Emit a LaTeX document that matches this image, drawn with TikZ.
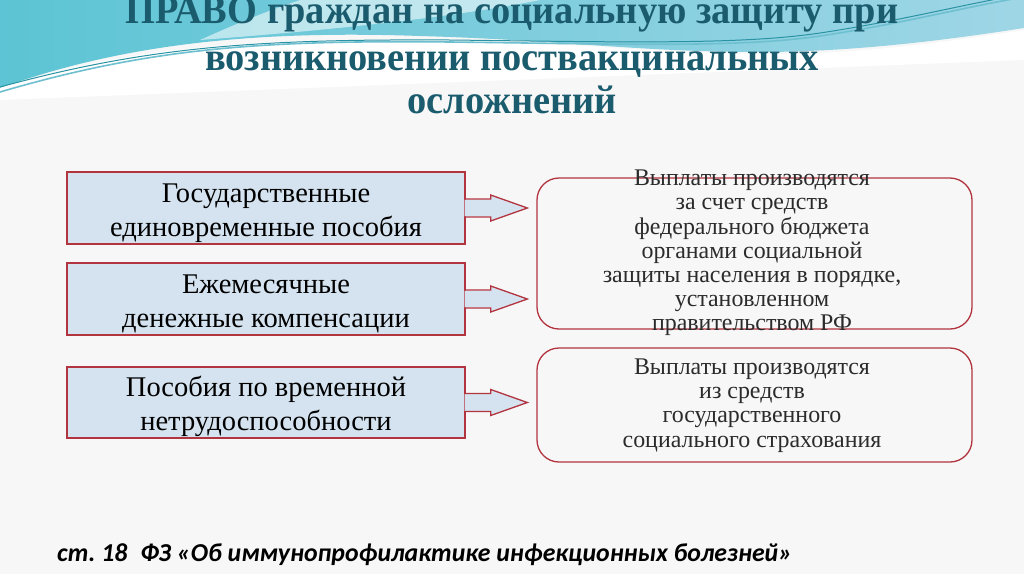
\documentclass[tikz,border=0pt]{standalone}
\usepackage{fontspec}
\setmainfont{Liberation Serif}
\newfontfamily\notefont{Carlito}
\usetikzlibrary{calc}
\definecolor{titleteal}{HTML}{1A5C6E}
\definecolor{boxred}{HTML}{B2343F}
\definecolor{boxblue}{HTML}{D4E3EF}
\definecolor{bggray}{HTML}{F7F7F7}
\definecolor{wavecyan}{HTML}{5CC4D4}
\definecolor{wavemid}{HTML}{C6E9F1}
\definecolor{wavelight}{HTML}{9FD6E6}
\definecolor{lineteal}{HTML}{2A93A3}
\definecolor{linelight}{HTML}{6EC0D0}
\definecolor{rtextgray}{HTML}{2B2B2B}
\newcommand\blockarr[2]{%
  \coordinate (s#1) at (#1.east);
  \coordinate (tip#1) at ($(#1.east -| #2.west)+(-9,0)$);
  \fill[boxblue] ($(s#1)+(-1.2,-8.4)$) -- ($(s#1)+(25,-8.4)$) -- ($(s#1)+(25,-12.4)$) -- (tip#1) -- ($(s#1)+(25,12.4)$) -- ($(s#1)+(25,8.4)$) -- ($(s#1)+(-1.2,8.4)$) -- cycle;
  \draw[blockarrow] ($(s#1)+(-0.7,-9)$) -- ($(s#1)+(25,-9)$) -- ($(s#1)+(25,-13)$) -- (tip#1) -- ($(s#1)+(25,13)$) -- ($(s#1)+(25,9)$) -- ($(s#1)+(-0.7,9)$);
}
\newcommand\ttlscale[1]{\scalebox{0.96}[1.0]{#1}}
\begin{document}
\frenchspacing
\begin{tikzpicture}[x=1pt,y=-1pt,
  lbox/.style={draw=boxred, fill=boxblue, line width=1.4pt, minimum width=398pt, inner sep=0pt},
  ltext/.style={align=center, text=black, inner sep=0pt, font=\fontsize{28.5}{34}\selectfont},
  rbox/.style={draw=boxred, line width=1.3pt, rounded corners=22pt, minimum width=435pt, inner sep=0pt},
  rtext/.style={align=center, text=rtextgray, inner sep=0pt, font=\fontsize{23.9}{24.2}\selectfont},
  ttl/.style={text=titleteal, inner sep=0pt, anchor=base, font=\fontsize{40}{44}\selectfont\bfseries},
  blockarrow/.style={draw=boxred, line width=1.3pt, line join=miter},
  note/.style={anchor=base west, inner sep=0pt, text=black, font=\notefont\bfseries\itshape\fontsize{25.8}{28}\selectfont}
]
\useasboundingbox (0,0) rectangle (1024,574);
\clip (0,0) rectangle (1024,574);
\fill[bggray] (0,0) rectangle (1024,574);
% top wave
\shade[left color=wavecyan, middle color=wavemid, right color=wavelight]
  (0,0) -- (1024,0) -- (1024,28) .. controls (960,38) and (860,52) .. (760,52)
  .. controls (640,52) and (560,40) .. (420,36)
  .. controls (250,30) and (120,45) .. (0,88) -- cycle;
\fill[white, opacity=0.55] (300,0) -- (540,0) .. controls (470,14) and (360,28) .. (200,40)
  .. controls (240,22) and (270,10) .. cycle;
\fill[white] (0,88) .. controls (120,48) and (250,38) .. (420,40)
  .. controls (560,42) and (640,52) .. (760,54) .. controls (860,55) and (960,40) .. (1024,30)
  -- (1024,60) -- (0,100) -- cycle;
\draw[linelight, line width=1.6pt] (0,92) .. controls (150,48) and (260,40) .. (450,42)
  .. controls (620,44) and (740,48) .. (820,36) .. controls (900,24) and (960,8) .. (1024,-3);
\draw[lineteal, line width=1.0pt] (0,87) .. controls (150,46) and (260,39) .. (450,40)
  .. controls (620,42) and (740,45) .. (820,33) .. controls (900,21) and (960,5) .. (1024,-6);
% title
\node[ttl] (ttl1) at (512,23.5) {\ttlscale{ПРАВО граждан на социальную защиту при}};
\node[ttl] (ttl2) at (512,70) {\ttlscale{возникновении поствакцинальных}};
\node[ttl] (ttl3) at (512,113) {\ttlscale{осложнений}};
% left boxes
\node[lbox, minimum height=72pt] (l1) at (266,208) {};
\node[lbox, minimum height=72pt] (l2) at (266,299) {};
\node[lbox, minimum height=71pt] (l3) at (266,402.5) {};
\node[ltext] (lt1) at ($(l1.center)+(0,5)$) {Государственные\\единовременные пособия};
\node[ltext] (lt2) at ($(l2.center)+(0,5)$) {Ежемесячные\\денежные компенсации};
\node[ltext] (lt3) at ($(l3.center)+(0,3.5)$) {Пособия по временной\\нетрудоспособности};
% right boxes
\node[rbox, minimum height=151pt] (r1) at (754.5,253.5) {};
\node[rbox, minimum height=114pt] (r2) at (754.5,405) {};
\node[rtext] (t1) at (752,253) {Выплаты производятся\\за счет средств\\федерального бюджета\\органами социальной\\защиты населения в порядке,\\установленном\\правительством РФ};
\node[rtext] (t2) at (752,405.5) {Выплаты производятся\\из средств\\государственного\\социального страхования};
% arrows
\blockarr{l1}{r1}
\blockarr{l2}{r1}
\blockarr{l3}{r2}
% note
\node[note] (src) at (57,561) {ст. 18\enspace ФЗ «Об иммунопрофилактике инфекционных болезней»};
\end{tikzpicture}
\end{document}
